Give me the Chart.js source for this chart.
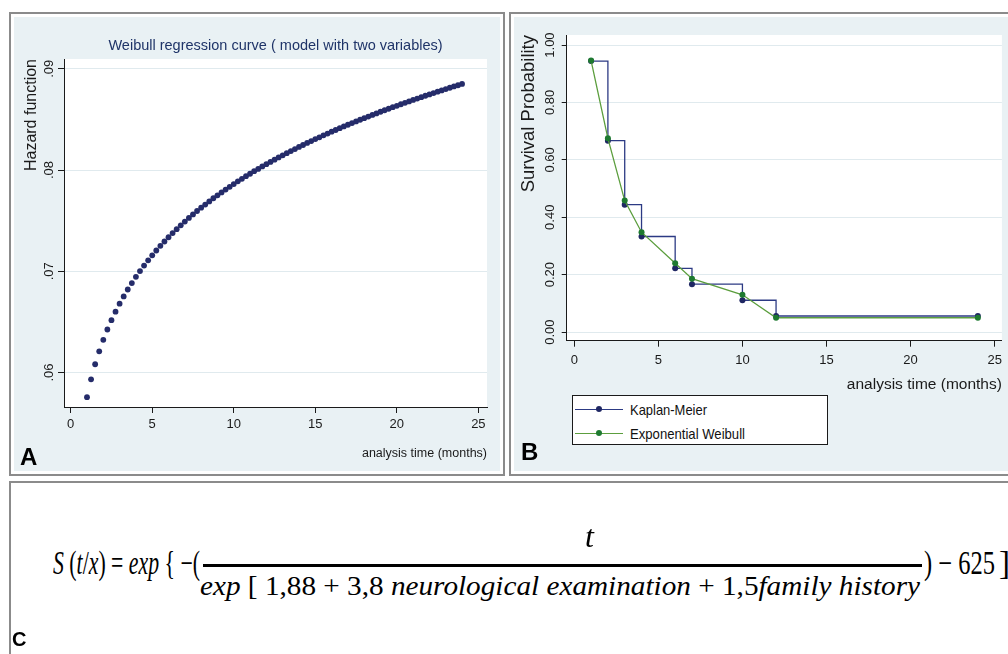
<!DOCTYPE html>
<html>
<head>
<meta charset="utf-8">
<script src="https://cdn.jsdelivr.net/npm/chart.js@4.4.1/dist/chart.umd.min.js"></script>
<style>
  html, body { margin: 0; padding: 0; background: #fff; }
  body { position: relative; width: 1008px; height: 654px; overflow: hidden; }
  .panel { position: absolute; box-sizing: border-box; border: 2px solid #8b8b8b; background: #fff; padding: 3px; }
  .panel .bg { width: 100%; height: 100%; background: #e9f1f4; }
  canvas { position: absolute; }
  .tag { position: absolute; font-family: 'Liberation Sans', Arial, sans-serif; font-weight: bold; line-height: 1; color: #000; }
  .legend { position: absolute; left: 572px; top: 395px; width: 256px; height: 50px; box-sizing: border-box; border: 1.5px solid #1a1a1a; background: #fff; }
  .lg-line { position: absolute; height: 1.5px; width: 48px; left: 575px; }
  .lg-dot { position: absolute; width: 6px; height: 6px; border-radius: 50%; left: 596px; }
  .lg-text { position: absolute; left: 630px; font-family: 'Liberation Sans', Arial, sans-serif; font-size: 15px; line-height: 1; color: #111; white-space: nowrap; transform-origin: 0 0; }
  .eq { position: absolute; font-family: 'Liberation Serif', 'DejaVu Serif', serif; line-height: 1; color: #000; white-space: nowrap; transform-origin: 0 0; }
  .eq i { font-style: italic; }
  .bar { position: absolute; background: #000; }
</style>
</head>
<body>

<div class="panel" style="left:9px; top:12px; width:496px; height:464px;"><div class="bg"></div></div>
<div class="panel" style="left:509px; top:12px; width:520px; height:464px;"><div class="bg"></div></div>
<div class="panel" style="left:9px; top:481px; width:1020px; height:200px;"></div>

<canvas id="hazardChart" width="486" height="454" style="left:14px; top:17px;"></canvas>
<canvas id="survivalChart" width="494" height="454" style="left:514px; top:17px;"></canvas>

<div class="legend"></div>
<div class="lg-line" style="top:408.5px; background:#2c3a84;"></div>
<div class="lg-dot" style="top:406.3px; background:#1f2763;"></div>
<div class="lg-text" data-w="77" style="top:402px;">Kaplan-Meier</div>
<div class="lg-line" style="top:432.5px; background:#5c9e3e;"></div>
<div class="lg-dot" style="top:430.3px; background:#1e7a30;"></div>
<div class="lg-text" data-w="115" style="top:426px;">Exponential Weibull</div>

<div class="tag" style="left:20px; top:445px; font-size:24px;">A</div>
<div class="tag" style="left:521px; top:440px; font-size:24px;">B</div>
<div class="tag" style="left:12px; top:629px; font-size:20px;">C</div>

<!-- formula of panel C -->
<div class="eq" data-w="147" style="left:53px; top:547px; font-size:33px;"><i>S</i> (<i>t</i>/<i>x</i>) = <i>exp</i> { −(</div>
<div class="eq" style="left:585px; top:520px; font-size:32px;"><i>t</i></div>
<div class="bar" style="left:203px; top:563.5px; width:719px; height:3px;"></div>
<div class="eq" data-w="720" style="left:200px; top:572.5px; font-size:27px;"><i>exp</i> [ 1,88 + 3,8 <i>neurological examination</i> + 1,5<i>family history</i></div>
<div class="eq" data-w="71" style="left:924px; top:547px; font-size:33px;">) − 625</div>
<div class="eq" style="left:999px; top:547px; font-size:33px;">]</div>

<script>
// panel A : Weibull hazard function (one dot every quarter month)
const hazTime = [
  1, 1.25, 1.5, 1.75, 2, 2.25, 2.5, 2.75, 3, 3.25, 3.5, 3.75,
  4, 4.25, 4.5, 4.75, 5, 5.25, 5.5, 5.75, 6, 6.25, 6.5, 6.75,
  7, 7.25, 7.5, 7.75, 8, 8.25, 8.5, 8.75, 9, 9.25, 9.5, 9.75,
  10, 10.25, 10.5, 10.75, 11, 11.25, 11.5, 11.75, 12, 12.25, 12.5, 12.75,
  13, 13.25, 13.5, 13.75, 14, 14.25, 14.5, 14.75, 15, 15.25, 15.5, 15.75,
  16, 16.25, 16.5, 16.75, 17, 17.25, 17.5, 17.75, 18, 18.25, 18.5, 18.75,
  19, 19.25, 19.5, 19.75, 20, 20.25, 20.5, 20.75, 21, 21.25, 21.5, 21.75,
  22, 22.25, 22.5, 22.75, 23, 23.25, 23.5, 23.75, 24
];
const hazValue = [
  0.05757, 0.05933, 0.06082, 0.06210, 0.06323, 0.06425, 0.06517, 0.06601,
  0.06680, 0.06752, 0.06820, 0.06884, 0.06945, 0.07002, 0.07056, 0.07108,
  0.07158, 0.07205, 0.07251, 0.07294, 0.07336, 0.07377, 0.07416, 0.07454,
  0.07491, 0.07527, 0.07561, 0.07595, 0.07628, 0.07659, 0.07690, 0.07721,
  0.07750, 0.07779, 0.07807, 0.07834, 0.07861, 0.07888, 0.07913, 0.07939,
  0.07963, 0.07988, 0.08011, 0.08035, 0.08058, 0.08080, 0.08102, 0.08124,
  0.08145, 0.08166, 0.08187, 0.08207, 0.08228, 0.08247, 0.08267, 0.08286,
  0.08305, 0.08323, 0.08342, 0.08360, 0.08378, 0.08395, 0.08413, 0.08430,
  0.08447, 0.08463, 0.08480, 0.08496, 0.08512, 0.08528, 0.08544, 0.08559,
  0.08575, 0.08590, 0.08605, 0.08620, 0.08634, 0.08649, 0.08663, 0.08677,
  0.08692, 0.08705, 0.08719, 0.08733, 0.08746, 0.08760, 0.08773, 0.08786,
  0.08799, 0.08812, 0.08825, 0.08837, 0.08850
];
const xTicksA = [0, 5, 10, 15, 20, 25];
const yTicksA = [0.06, 0.07, 0.08, 0.09];
const yLabelsA = ['.06', '.07', '.08', '.09'];

// panel B : Kaplan-Meier vs fitted model
const kmTime = [1, 2, 3, 4, 6, 7, 10, 12, 24];
const kmSurv = [0.944, 0.667, 0.444, 0.333, 0.222, 0.167, 0.111, 0.056, 0.056];
const wbTime = [1, 2, 3, 4, 6, 7, 10, 12, 24];
const wbSurv = [0.946, 0.675, 0.458, 0.348, 0.240, 0.186, 0.130, 0.050, 0.050];
const xTicksB = [0, 5, 10, 15, 20, 25];
const yTicksB = [0, 0.2, 0.4, 0.6, 0.8, 1.0];
const yLabelsB = ['0.00', '0.20', '0.40', '0.60', '0.80', '1.00'];

const sansFamily = "'Liberation Sans', Arial, sans-serif";
const inkColor = '#1a1a1a';
const gridColor = '#e0eaee';

// white plot region like Stata's s2color scheme
const plotBg = {
    id: 'plotBg',
    beforeDraw(chart) {
        const a = chart.chartArea;
        const ctx = chart.ctx;
        ctx.save();
        ctx.fillStyle = '#ffffff';
        ctx.fillRect(a.left, a.top, a.right - a.left, a.bottom - a.top);
        ctx.restore();
    }
};

let hazardCtx = document.getElementById('hazardChart');
let hazardConfig = {
    type: 'scatter',
    data: {
        datasets: [{
            label: 'Hazard function',
            data: hazTime.map((t, i) => ({x: t, y: hazValue[i]})),
            pointRadius: 2.9,
            pointHoverRadius: 2.9,
            pointBorderWidth: 0,
            pointBackgroundColor: '#252c6a',
        }]
    },
    options: {
        responsive: false,
        animation: false,
        layout: {padding: {left: 8, right: 13, top: 0, bottom: 0}},
        plugins: {
            legend: {display: false},
            tooltip: {enabled: false},
            title: {
                display: true,
                fullSize: false,
                text: 'Weibull regression curve ( model with two variables)',
                color: '#1f3468',
                font: {family: sansFamily, size: 14.5, weight: 'normal'},
                padding: {top: 20.3, bottom: 4.3}
            }
        },
        scales: {
            x: {
                type: 'linear',
                min: -0.41,
                max: 25.53,
                afterBuildTicks: s => { s.ticks = xTicksA.map(v => ({value: v})); },
                afterFit: s => { s.height = 64; },
                grid: {display: true, drawOnChartArea: false, drawTicks: true, tickLength: 6, tickColor: inkColor},
                border: {display: true, color: inkColor, width: 1},
                ticks: {color: inkColor, font: {family: sansFamily, size: 13}, padding: 4, maxRotation: 0},
                title: {display: true, text: 'analysis time (months)', align: 'end', color: inkColor,
                        font: {family: sansFamily, size: 12.5}, padding: {top: 0, bottom: 10}}
            },
            y: {
                type: 'linear',
                min: 0.0566,
                max: 0.09096,
                afterBuildTicks: s => { s.ticks = yTicksA.map(v => ({value: v})); },
                afterFit: s => { s.width = 42; },
                grid: {color: gridColor, drawTicks: true, tickLength: 6, tickColor: inkColor},
                border: {display: true, color: inkColor, width: 1},
                ticks: {callback: (v, i) => yLabelsA[i], minRotation: 90, maxRotation: 90, crossAlign: 'center',
                        padding: 0, color: inkColor, font: {family: sansFamily, size: 13}},
                title: {display: true, text: 'Hazard function', align: 'end', color: inkColor,
                        font: {family: sansFamily, size: 16}, padding: 0}
            }
        }
    },
    plugins: [plotBg]
};
let hazardChart = new Chart(hazardCtx, hazardConfig);

let survivalCtx = document.getElementById('survivalChart');
let survivalConfig = {
    type: 'scatter',
    data: {
        datasets: [{
            label: 'Kaplan-Meier',
            data: kmTime.map((t, i) => ({x: t, y: kmSurv[i]})),
            showLine: true,
            stepped: 'before',
            borderColor: '#2c3a84',
            borderWidth: 1.3,
            pointRadius: 3,
            pointHoverRadius: 3,
            pointBorderWidth: 0,
            pointBackgroundColor: '#1f2763',
            order: 2
        }, {
            label: 'Exponential Weibull',
            data: wbTime.map((t, i) => ({x: t, y: wbSurv[i]})),
            showLine: true,
            borderColor: '#5c9e3e',
            borderWidth: 1.3,
            pointRadius: 3,
            pointHoverRadius: 3,
            pointBorderWidth: 0,
            pointBackgroundColor: '#1e7a30',
            // green fit is drawn on top
            order: 1
        }]
    },
    options: {
        responsive: false,
        animation: false,
        layout: {padding: {left: 4, right: 6, top: 18, bottom: 74}},
        plugins: {
            legend: {display: false},
            tooltip: {enabled: false}
        },
        scales: {
            x: {
                type: 'linear',
                min: -0.45,
                max: 25.43,
                afterBuildTicks: s => { s.ticks = xTicksB.map(v => ({value: v})); },
                afterFit: s => { s.height = 56.3; },
                grid: {display: true, drawOnChartArea: false, drawTicks: true, tickLength: 6, tickColor: inkColor},
                border: {display: true, color: inkColor, width: 1},
                ticks: {color: inkColor, font: {family: sansFamily, size: 13}, padding: 6, maxRotation: 0},
                title: {display: true, text: 'analysis time (months)', align: 'end', color: inkColor,
                        font: {family: sansFamily, size: 15.5}, padding: {top: 0, bottom: 3}}
            },
            y: {
                type: 'linear',
                min: -0.030,
                max: 1.035,
                afterBuildTicks: s => { s.ticks = yTicksB.map(v => ({value: v})); },
                afterFit: s => { s.width = 48.7; },
                grid: {color: gridColor, drawTicks: true, tickLength: 5, tickColor: inkColor},
                border: {display: true, color: inkColor, width: 1},
                ticks: {callback: (v, i) => yLabelsB[i], minRotation: 90, maxRotation: 90, crossAlign: 'center',
                        padding: -1, color: inkColor, font: {family: sansFamily, size: 13}},
                title: {display: true, text: 'Survival Probability', align: 'end', color: inkColor,
                        font: {family: sansFamily, size: 18.5}, padding: 0}
            }
        }
    },
    plugins: [plotBg]
};
let survivalChart = new Chart(survivalCtx, survivalConfig);

// squeeze the text pieces to the widths seen in the figure
function fitWidths() {
    document.querySelectorAll('[data-w]').forEach(el => {
        el.style.transform = 'none';
        const w = el.getBoundingClientRect().width;
        if (w > 0) el.style.transform = 'scaleX(' + (Number(el.dataset.w) / w) + ')';
    });
}
fitWidths();
if (document.fonts) document.fonts.ready.then(fitWidths);
</script>
</body>
</html>
